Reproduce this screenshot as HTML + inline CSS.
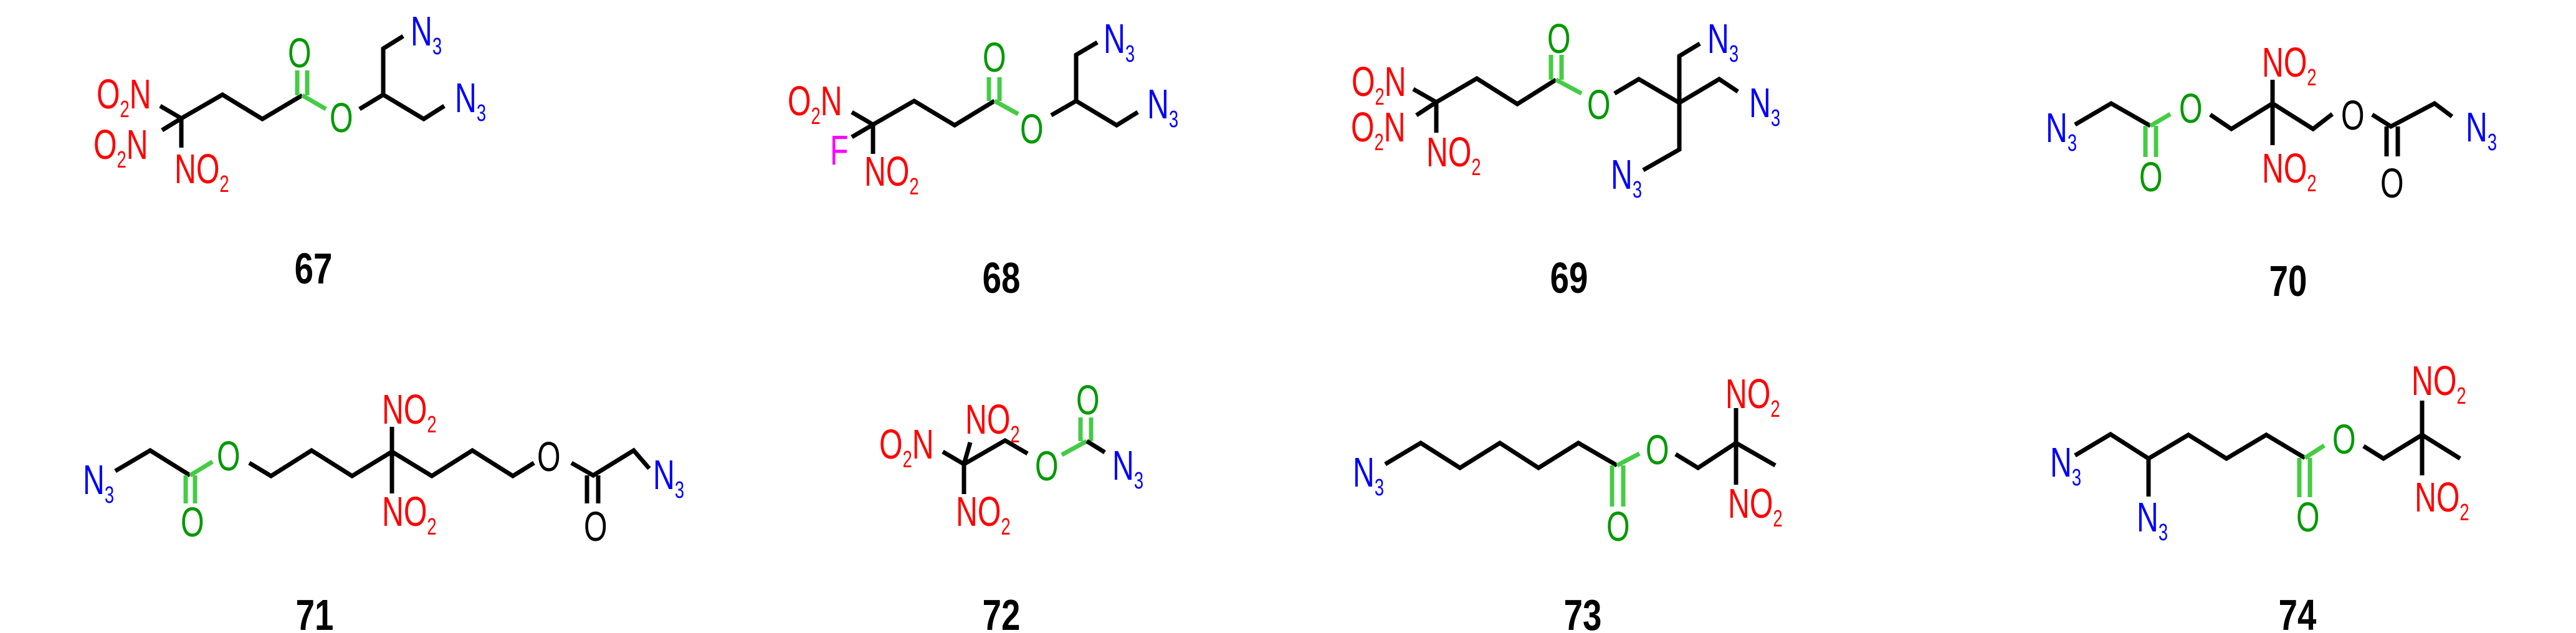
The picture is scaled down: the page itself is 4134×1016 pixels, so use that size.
<!DOCTYPE html>
<html><head><meta charset="utf-8"><style>
html,body{margin:0;padding:0;background:#fff}
svg{display:block}
.b{stroke:#000;stroke-width:7;fill:none;stroke-linejoin:miter}
.g{stroke:#44cc44;stroke-width:7;fill:none}
text{font-family:"Liberation Sans",Arial,sans-serif;font-size:67px}
.s{font-size:38px}
.r{fill:#ff0000}.u{fill:#0000ff}.o{fill:#009900}.k{fill:#000}.m{fill:#ff00ff}
.L{font-weight:bold;font-size:70px;fill:#000}
</style></head><body>
<svg width="4134" height="1016" viewBox="0 0 4134 1016" xmlns="http://www.w3.org/2000/svg">
<rect width="4134" height="1016" fill="#fff"/>

<!-- 67 -->
<polyline class="b" points="257,170 291,190 260,209"/>
<polyline class="b" points="291,237 291,190 357,152 421,191 485,153"/>
<line class="g" x1="477" y1="153" x2="477" y2="113"/><line class="g" x1="493" y1="153" x2="493" y2="113"/>
<line class="g" x1="485" y1="153" x2="523" y2="175"/>
<polyline class="b" points="577,175 615,152 615,78 647,58"/>
<polyline class="b" points="615,152 680,191 713,170"/>
<text class="r" transform="translate(155,174) scale(.72,1)">O<tspan class="s" dy="14">2</tspan><tspan dy="-14">N</tspan></text>
<text class="r" transform="translate(150,255) scale(.72,1)">O<tspan class="s" dy="14">2</tspan><tspan dy="-14">N</tspan></text>
<text class="r" transform="translate(280,294) scale(.72,1)">NO<tspan class="s" dy="14">2</tspan></text>
<text class="o" transform="translate(462,108) scale(.72,1)">O</text>
<text class="o" transform="translate(529,212) scale(.72,1)">O</text>
<text class="u" transform="translate(659,73) scale(.72,1)">N<tspan class="s" dy="14">3</tspan></text>
<text class="u" transform="translate(730,180) scale(.72,1)">N<tspan class="s" dy="14">3</tspan></text>
<text class="L" text-anchor="middle" transform="translate(503,455) scale(.78,1)">67</text>

<!-- 68 -->
<polyline class="b" points="1367,180 1401,200 1367,220"/>
<polyline class="b" points="1401,247 1401,200 1467,162 1532,201 1596,162"/>
<line class="g" x1="1587" y1="162" x2="1587" y2="124"/><line class="g" x1="1604" y1="162" x2="1604" y2="124"/>
<line class="g" x1="1596" y1="162" x2="1634" y2="183"/>
<polyline class="b" points="1687,185 1727,162 1727,88 1761,68"/>
<polyline class="b" points="1727,162 1792,201 1826,180"/>
<text class="r" transform="translate(1264,185) scale(.72,1)">O<tspan class="s" dy="14">2</tspan><tspan dy="-14">N</tspan></text>
<text class="m" transform="translate(1332,264) scale(.72,1)">F</text>
<text class="r" transform="translate(1387,298) scale(.72,1)">NO<tspan class="s" dy="14">2</tspan></text>
<text class="o" transform="translate(1577,115) scale(.72,1)">O</text>
<text class="o" transform="translate(1637,230) scale(.72,1)">O</text>
<text class="u" transform="translate(1771,85) scale(.72,1)">N<tspan class="s" dy="14">3</tspan></text>
<text class="u" transform="translate(1841,190) scale(.72,1)">N<tspan class="s" dy="14">3</tspan></text>
<text class="L" text-anchor="middle" transform="translate(1607,470) scale(.78,1)">68</text>

<!-- 69 -->
<polyline class="b" points="2268,143 2305,164 2273,185"/>
<polyline class="b" points="2305,213 2305,164 2370,126 2435,167 2497,128"/>
<line class="g" x1="2489" y1="128" x2="2489" y2="88"/><line class="g" x1="2506" y1="128" x2="2506" y2="88"/>
<line class="g" x1="2497" y1="128" x2="2538" y2="150"/>
<polyline class="b" points="2591,150 2630,127 2695,165 2695,90 2728,70"/>
<polyline class="b" points="2695,165 2759,127 2789,147"/>
<polyline class="b" points="2695,165 2695,240 2637,273"/>
<text class="r" transform="translate(2169,154) scale(.72,1)">O<tspan class="s" dy="14">2</tspan><tspan dy="-14">N</tspan></text>
<text class="r" transform="translate(2168,227) scale(.72,1)">O<tspan class="s" dy="14">2</tspan><tspan dy="-14">N</tspan></text>
<text class="r" transform="translate(2289,267) scale(.72,1)">NO<tspan class="s" dy="14">2</tspan></text>
<text class="o" transform="translate(2483,85) scale(.72,1)">O</text>
<text class="o" transform="translate(2547,191) scale(.72,1)">O</text>
<text class="u" transform="translate(2740,85) scale(.72,1)">N<tspan class="s" dy="14">3</tspan></text>
<text class="u" transform="translate(2807,188) scale(.72,1)">N<tspan class="s" dy="14">3</tspan></text>
<text class="u" transform="translate(2585,303) scale(.72,1)">N<tspan class="s" dy="14">3</tspan></text>
<text class="L" text-anchor="middle" transform="translate(2518,470) scale(.78,1)">69</text>

<!-- 70 -->
<polyline class="b" points="3330,200 3388,166 3451,202"/>
<line class="g" x1="3443" y1="202" x2="3443" y2="252"/><line class="g" x1="3460" y1="202" x2="3460" y2="252"/>
<line class="g" x1="3451" y1="202" x2="3483" y2="183"/>
<polyline class="b" points="3547,184 3581,207 3647,166 3712,207 3743,183"/>
<line class="b" x1="3647" y1="128" x2="3647" y2="233"/>
<polyline class="b" points="3807,184 3837,203 3907,166 3935,187"/>
<line class="b" x1="3830" y1="203" x2="3830" y2="251"/><line class="b" x1="3848" y1="203" x2="3848" y2="251"/>
<text class="u" transform="translate(3283,228) scale(.72,1)">N<tspan class="s" dy="14">3</tspan></text>
<text class="o" transform="translate(3433,307) scale(.72,1)">O</text>
<text class="o" transform="translate(3497,197) scale(.72,1)">O</text>
<text class="r" transform="translate(3630,123) scale(.72,1)">NO<tspan class="s" dy="14">2</tspan></text>
<text class="r" transform="translate(3630,293) scale(.72,1)">NO<tspan class="s" dy="14">2</tspan></text>
<text class="k" transform="translate(3757,208) scale(.72,1)">O</text>
<text class="k" transform="translate(3820,317) scale(.72,1)">O</text>
<text class="u" transform="translate(3957,227) scale(.72,1)">N<tspan class="s" dy="14">3</tspan></text>
<text class="L" text-anchor="middle" transform="translate(3672,475) scale(.78,1)">70</text>

<!-- 71 -->
<polyline class="b" points="185,756 241,723 305,763"/>
<line class="g" x1="298" y1="763" x2="298" y2="808"/><line class="g" x1="313" y1="763" x2="313" y2="808"/>
<line class="g" x1="305" y1="763" x2="341" y2="741"/>
<polyline class="b" points="400,743 435,764 500,723 565,764 629,725 693,764 758,723 823,764 857,743"/>
<line class="b" x1="629" y1="685" x2="629" y2="792"/>
<polyline class="b" points="917,743 952,763 1017,723 1042,752"/>
<line class="b" x1="942" y1="763" x2="942" y2="808"/><line class="b" x1="960" y1="763" x2="960" y2="808"/>
<text class="u" transform="translate(133,793) scale(.72,1)">N<tspan class="s" dy="14">3</tspan></text>
<text class="o" transform="translate(290,861) scale(.72,1)">O</text>
<text class="o" transform="translate(348,755) scale(.72,1)">O</text>
<text class="r" transform="translate(613,680) scale(.72,1)">NO<tspan class="s" dy="14">2</tspan></text>
<text class="r" transform="translate(613,844) scale(.72,1)">NO<tspan class="s" dy="14">2</tspan></text>
<text class="k" transform="translate(862,756) scale(.72,1)">O</text>
<text class="k" transform="translate(937,868) scale(.72,1)">O</text>
<text class="u" transform="translate(1048,785) scale(.72,1)">N<tspan class="s" dy="14">3</tspan></text>
<text class="L" text-anchor="middle" transform="translate(505,1011) scale(.78,1)">71</text>

<!-- 72 -->
<polyline class="b" points="1513,725 1547,745 1613,707 1649,728"/>
<line class="b" x1="1547" y1="745" x2="1557" y2="710"/>
<line class="b" x1="1547" y1="745" x2="1547" y2="793"/>
<line class="g" x1="1704" y1="730" x2="1744" y2="708"/>
<line class="g" x1="1734" y1="708" x2="1734" y2="670"/><line class="g" x1="1751" y1="708" x2="1751" y2="670"/>
<line class="b" x1="1744" y1="708" x2="1773" y2="726"/>
<text class="r" transform="translate(1411,736) scale(.72,1)">O<tspan class="s" dy="14">2</tspan><tspan dy="-14">N</tspan></text>
<text class="r" transform="translate(1549,696) scale(.72,1)">NO<tspan class="s" dy="14">2</tspan></text>
<text class="r" transform="translate(1534,844) scale(.72,1)">NO<tspan class="s" dy="14">2</tspan></text>
<text class="o" transform="translate(1661,771) scale(.72,1)">O</text>
<text class="o" transform="translate(1727,665) scale(.72,1)">O</text>
<text class="u" transform="translate(1785,770) scale(.72,1)">N<tspan class="s" dy="14">3</tspan></text>
<text class="L" text-anchor="middle" transform="translate(1607,1011) scale(.78,1)">72</text>

<!-- 73 -->
<polyline class="b" points="2223,745 2280,711 2343,751 2407,711 2469,751 2533,711 2595,747"/>
<line class="g" x1="2587" y1="747" x2="2587" y2="813"/><line class="g" x1="2605" y1="747" x2="2605" y2="813"/>
<line class="g" x1="2595" y1="747" x2="2631" y2="728"/>
<polyline class="b" points="2689,729 2725,751 2786,711 2849,747"/>
<line class="b" x1="2786" y1="655" x2="2786" y2="778"/>
<text class="u" transform="translate(2171,781) scale(.72,1)">N<tspan class="s" dy="14">3</tspan></text>
<text class="o" transform="translate(2578,868) scale(.72,1)">O</text>
<text class="o" transform="translate(2641,745) scale(.72,1)">O</text>
<text class="r" transform="translate(2769,655) scale(.72,1)">NO<tspan class="s" dy="14">2</tspan></text>
<text class="r" transform="translate(2773,831) scale(.72,1)">NO<tspan class="s" dy="14">2</tspan></text>
<text class="L" text-anchor="middle" transform="translate(2540,1011) scale(.78,1)">73</text>

<!-- 74 -->
<polyline class="b" points="3330,731 3387,697 3448,736 3512,698 3573,736 3637,698 3699,735"/>
<line class="b" x1="3448" y1="736" x2="3448" y2="797"/>
<line class="g" x1="3690" y1="735" x2="3690" y2="798"/><line class="g" x1="3707" y1="735" x2="3707" y2="798"/>
<line class="g" x1="3699" y1="735" x2="3730" y2="715"/>
<polyline class="b" points="3793,716 3825,736 3887,698 3948,736"/>
<line class="b" x1="3887" y1="643" x2="3887" y2="763"/>
<text class="u" transform="translate(3290,765) scale(.72,1)">N<tspan class="s" dy="14">3</tspan></text>
<text class="u" transform="translate(3429,853) scale(.72,1)">N<tspan class="s" dy="14">3</tspan></text>
<text class="o" transform="translate(3685,853) scale(.72,1)">O</text>
<text class="o" transform="translate(3743,728) scale(.72,1)">O</text>
<text class="r" transform="translate(3870,634) scale(.72,1)">NO<tspan class="s" dy="14">2</tspan></text>
<text class="r" transform="translate(3875,821) scale(.72,1)">NO<tspan class="s" dy="14">2</tspan></text>
<text class="L" text-anchor="middle" transform="translate(3687,1011) scale(.78,1)">74</text>
</svg>
</body></html>
